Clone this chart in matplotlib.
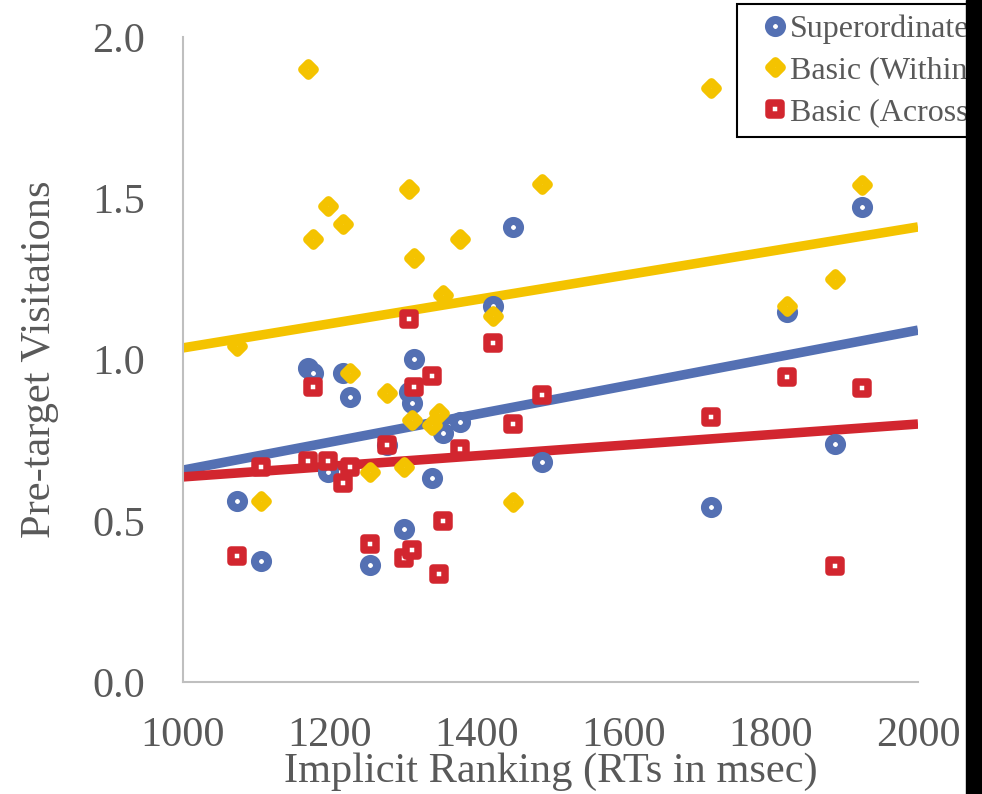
import numpy as np
import matplotlib
matplotlib.use("Agg")
import matplotlib.pyplot as plt
from matplotlib.markers import MarkerStyle
from matplotlib.patches import Rectangle
from matplotlib.ticker import FormatStrFormatter

# -----------------------------
# Data
# -----------------------------
rt_msec = [1074, 1106, 1170, 1177, 1197, 1218, 1227, 1254, 1277, 1301, 1307, 1312,
           1314, 1339, 1348, 1354, 1377, 1422, 1449, 1488, 1718, 1822, 1887, 1924]

superordinate = [0.561, 0.375, 0.974, 0.958, 0.651, 0.958, 0.884, 0.363, 0.735, 0.474, 0.899, 0.865,
                 1.002, 0.633, np.nan, 0.772, 0.806, 1.166, 1.411, 0.682, 0.543, 1.147, 0.738, 1.473]
basic_within = [1.042, 0.561, 1.901, 1.374, 1.476, 1.420, 0.958, 0.651, 0.896, 0.667, 1.529, 0.812,
                1.315, 0.797, 0.834, 1.200, 1.374, 1.135, 0.558, 1.544, 1.842, 1.166, 1.250, 1.541]
basic_across = [0.391, 0.667, 0.685, 0.915, 0.685, 0.617, 0.667, 0.428, 0.735, 0.384, 1.126, 0.409,
                0.915, 0.949, 0.335, 0.499, 0.722, 1.051, 0.800, 0.890, 0.822, 0.946, 0.360, 0.912]

# linear trend lines, value at x=1000 and x=2000
trend_x = [1000, 2000]
trend_super = [0.657, 1.091]
trend_within = [1.036, 1.411]
trend_across = [0.636, 0.800]

series_names = ["Superordinate", "Basic (Within)", "Basic (Across)"]

# -----------------------------
# Style
# -----------------------------
blue = "#5470b3"
yellow = "#f4c300"
red = "#d2262f"
grey_text = "#595959"
spine_grey = "#bfbfbf"

plt.rcParams["font.family"] = ["Liberation Serif", "DejaVu Serif"]

fig = plt.figure(figsize=(9.82, 7.94), dpi=100)
ax = fig.add_axes([183 / 982, 1 - 682 / 794, (918 - 183) / 982, (682 - 37) / 794])

# trend lines under the markers
for ys, c in [(trend_super, blue), (trend_within, yellow), (trend_across, red)]:
    ax.plot(trend_x, ys, color=c, lw=6.9, solid_capstyle="butt", zorder=2)

x = np.array(rt_msec)
ax.plot(x, superordinate, ls="none", marker=MarkerStyle("o", joinstyle="round"),
        ms=9.4, mew=5.8, mec=blue, mfc="white", label=series_names[0], zorder=3)
ax.plot(x, basic_within, ls="none", marker=MarkerStyle("D", joinstyle="round"),
        ms=6.4, mew=6.3, mec=yellow, mfc="white", label=series_names[1], zorder=4)
ax.plot(x, basic_across, ls="none", marker=MarkerStyle("s", joinstyle="round"),
        ms=9.0, mew=5.4, mec=red, mfc="white", label=series_names[2], zorder=5)

ax.set_xlim(1000, 2000)
ax.set_ylim(0, 2.0)
ax.set_xticks([1000, 1200, 1400, 1600, 1800, 2000])
ax.set_yticks([0.0, 0.5, 1.0, 1.5, 2.0])
ax.yaxis.set_major_formatter(FormatStrFormatter("%.1f"))

for side in ["top", "right"]:
    ax.spines[side].set_visible(False)
for side in ["left", "bottom"]:
    ax.spines[side].set_color(spine_grey)
    ax.spines[side].set_linewidth(1.5)

ax.tick_params(length=0, labelsize=30.5, labelcolor=grey_text)
ax.tick_params(axis="y", pad=27)
ax.tick_params(axis="x", pad=25)

ax.set_xlabel("Implicit Ranking (RTs in msec)", fontsize=30.5, color=grey_text, labelpad=-2)
ax.set_ylabel("Pre-target Visitations", fontsize=30.5, color=grey_text, labelpad=24)

leg = ax.legend(loc="upper left", bbox_to_anchor=(737 / 982, 1 - 4 / 794),
                bbox_transform=fig.transFigure, borderaxespad=0, fontsize=23,
                frameon=True, fancybox=False, framealpha=1, edgecolor="black",
                borderpad=0.32, labelspacing=0.38, handlelength=1.75, handletextpad=-0.4)
leg.get_frame().set_linewidth(1.5)
for t in leg.get_texts():
    t.set_color(grey_text)

# black strip on the right edge
fig.patches.append(Rectangle((966 / 982, 0), 16 / 982, 1, transform=fig.transFigure,
                             color="black", zorder=10))

fig.savefig("out.png", dpi=100)
